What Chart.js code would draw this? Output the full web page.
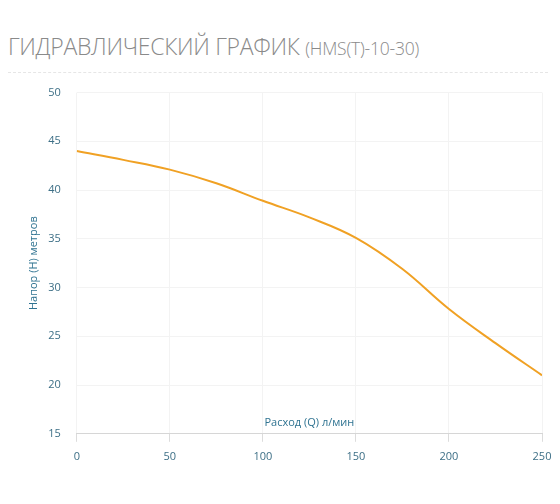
<!DOCTYPE html>
<html>
<head>
<meta charset="utf-8">
<script src="https://cdn.jsdelivr.net/npm/chart.js@4.4.1/dist/chart.umd.min.js"></script>
<style>
  body { margin: 0; background: #fff; width: 560px; height: 504px; overflow: hidden; font-family: "Open Sans", sans-serif; }
  #title { position: absolute; left: 8px; top: 30px; color: #8a8a8a; font-weight: 300; font-size: 23px; white-space: nowrap; letter-spacing: -0.3px; }
  #title small { font-size: 17.5px; letter-spacing: -0.2px; }
  #sep { position: absolute; left: 8px; top: 72px; width: 540px; border-top: 1px dashed #e6e6e6; }
  #box { position: absolute; left: 0; top: 70px; width: 560px; height: 420px; }
</style>
</head>
<body>
<div id="title">ГИДРАВЛИЧЕСКИЙ ГРАФИК <small>(HMS(T)-10-30)</small></div>
<div id="sep"></div>
<div id="box"><canvas id="graph"></canvas></div>
<script>
// Dados do grafico
const flowQ = [0, 25, 50, 75, 100, 125, 150, 175, 200, 225, 250];
const headH = [44, 43.1, 42.1, 40.7, 38.9, 37.2, 35.1, 31.9, 27.8, 24.3, 21];
const xTicks = [0, 50, 100, 150, 200, 250];
const yTicks = [15, 20, 25, 30, 35, 40, 45, 50];

const xTitle = "Расход (Q) л/мин";
const yTitle = "Напор (H) метров";

var tickColor = "#3d6f86";
var points = flowQ.map((q, i) => ({ x: q, y: headH[i] }));

// Titulo do eixo x acima da linha
const xTitlePlugin = {
  id: "xTitleAbove",
  afterDraw(chart) {
    const ctx = chart.ctx;
    const area = chart.chartArea;
    ctx.save();
    ctx.font = "11px 'Open Sans', sans-serif";
    ctx.fillStyle = "#2f7391";
    ctx.textAlign = "center";
    ctx.textBaseline = "bottom";
    ctx.fillText(xTitle, (area.left + area.right) / 2, area.bottom - 5);
    ctx.restore();
  }
};

const MyChart = new Chart("graph", {
  type: "line",
  data: {
    datasets: [{
      data: points,
      borderColor: "#f0a124",
      borderWidth: 2,
      pointRadius: 0,
      tension: 0.4,
      fill: false
    }]
  },
  options: {
    animation: false,
    responsive: true,
    maintainAspectRatio: false,
    layout: { padding: { left: 23, right: 18, top: 0, bottom: 19 } },
    plugins: { legend: { display: false }, tooltip: { enabled: false } },
    scales: {
      x: {
        type: "linear",
        min: 0, max: 250,
        afterBuildTicks: axis => { axis.ticks = xTicks.map(v => ({ value: v })); },
        grid: { color: "#f3f3f3", tickColor: "#dcdcdc", tickLength: 8 },
        border: { color: "#d6d6d6" },
        ticks: { color: tickColor, font: { size: 11, family: "'Open Sans', sans-serif" }, padding: 8 }
      },
      y: {
        min: 15, max: 50,
        afterBuildTicks: axis => { axis.ticks = yTicks.map(v => ({ value: v })); },
        grid: { color: "#f3f3f3", drawTicks: false },
        border: { display: false },
        ticks: { color: tickColor, font: { size: 11, family: "'Open Sans', sans-serif" }, padding: 16 },
        title: { display: true, text: yTitle, color: "#2f7391", font: { size: 11, family: "'Open Sans', sans-serif" }, padding: { top: 4, bottom: -8 } }
      }
    }
  },
  plugins: [xTitlePlugin]
});
</script>
</body>
</html>
